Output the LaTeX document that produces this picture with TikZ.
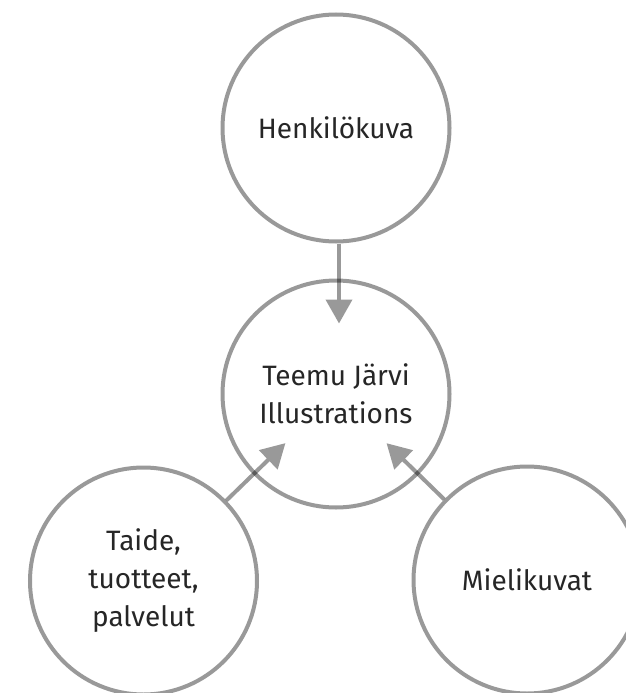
\documentclass[tikz,border=0pt]{standalone}
\usepackage{fontspec}
\setmainfont{Fira Sans}
\usetikzlibrary{arrows.meta,positioning,backgrounds}
\tikzset{
  bubble/.style={
    circle,
    draw=black,
    draw opacity=0.4,
    line width=4pt,
    minimum size=227pt,
    align=center,
    inner sep=0pt,
    text=black!85,
    font=\fontsize{28}{38}\selectfont
  },
  flow/.style={-{Triangle[width=26pt,length=24pt]}, draw=black!40, line width=4pt,
    shorten >=-45pt}
}

\begin{document}
\begin{tikzpicture}[x=1pt, y=-1pt]
  \useasboundingbox (0,0) rectangle (626,693);

  \node[bubble] (center) at (336,394) {Teemu Järvi\\Illustrations};
  \node[bubble] (portrait) at (336,128) {Henkilökuva};
  \node[bubble] (art) at (143.5,581) {Taide,\\tuotteet,\\palvelut};
  \node[bubble] (images) at (527,580) {Mielikuvat};

  % arrows go under the circles
  \begin{pgfonlayer}{background}
    \draw[flow] ([xshift=3pt]portrait.south) -- ([xshift=3pt]center.north);
    \draw[flow] (art) -- (center);
    \draw[flow] (images) -- (center);
  \end{pgfonlayer}

\end{tikzpicture}
\end{document}
